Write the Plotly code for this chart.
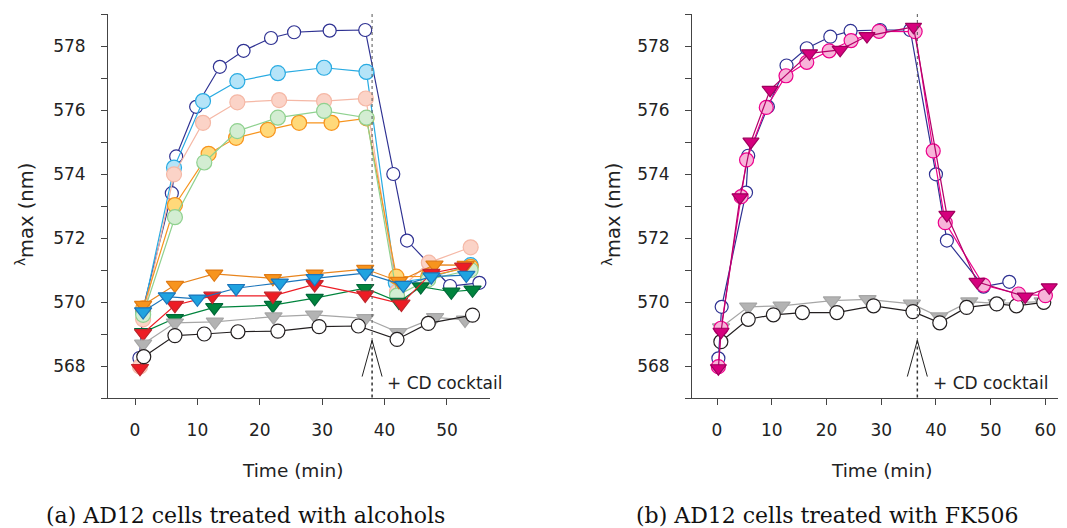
import plotly.graph_objects as go

# ---------------- data: (a) alcohols ----------------
a_navy_t = [0.7, 1.3, 5.9, 6.6, 9.8, 13.6, 17.4, 21.8, 25.5, 31.2, 36.9, 41.4, 43.6, 50.5, 55.2]
a_navy_v = [568.25, 569.8, 573.4, 574.55, 576.1, 577.35, 577.85, 578.25, 578.43, 578.48, 578.5, 574.0, 571.92, 570.5, 570.6]

a_lblue_t = [1.3, 6.25, 10.9, 16.4, 22.9, 30.3, 37.1, 41.8, 47.0, 53.8]
a_lblue_v = [569.7, 574.2, 576.28, 576.9, 577.15, 577.32, 577.19, 570.6, 570.75, 571.15]

a_salmon_t = [0.8, 1.3, 6.25, 10.9, 16.4, 23.1, 30.3, 37.0, 42.0, 47.1, 53.8]
a_salmon_v = [567.98, 569.46, 573.99, 575.6, 576.24, 576.31, 576.28, 576.36, 570.32, 571.23, 571.71]

a_yellow_t = [1.3, 6.4, 11.8, 16.2, 21.3, 26.3, 31.5, 37.1, 41.9, 47.0, 53.8]
a_yellow_v = [569.8, 573.03, 574.63, 575.13, 575.38, 575.6, 575.6, 575.74, 570.79, 570.8, 571.1]

a_lgreen_t = [1.3, 6.4, 11.1, 16.4, 22.9, 30.3, 37.1, 42.0, 47.0, 53.8]
a_lgreen_v = [569.6, 572.65, 574.36, 575.34, 575.76, 575.97, 575.76, 570.2, 570.7, 571.0]

a_orange_t = [1.3, 6.4, 12.7, 22.1, 28.8, 36.9, 42.3, 48.0, 53.0]
a_orange_v = [569.9, 570.53, 570.88, 570.74, 570.88, 571.03, 570.65, 571.16, 571.15]

a_dgreen_t = [1.3, 6.4, 12.7, 22.1, 28.8, 36.9, 42.3, 45.8, 50.7, 54.1]
a_dgreen_v = [569.05, 569.49, 569.83, 569.9, 570.12, 570.43, 570.0, 570.48, 570.32, 570.38]

a_red_t = [0.8, 1.3, 6.4, 12.4, 22.1, 28.8, 36.9, 42.7, 47.5, 52.6]
a_red_v = [567.93, 569.02, 569.9, 570.19, 570.19, 570.55, 570.22, 569.94, 570.9, 571.1]

a_blue_t = [1.3, 5.1, 10.0, 16.2, 23.2, 28.8, 36.9, 43.0, 47.5, 53.1]
a_blue_v = [569.7, 570.17, 570.1, 570.43, 570.6, 570.74, 570.9, 570.53, 570.79, 570.84]

a_gray_t = [1.3, 6.4, 12.8, 22.2, 28.7, 36.9, 42.2, 48.1, 52.9]
a_gray_v = [568.69, 569.35, 569.38, 569.54, 569.6, 569.49, 569.05, 569.52, 569.44]

a_black_t = [1.4, 6.4, 11.1, 16.5, 22.9, 29.5, 35.8, 42.0, 47.0, 54.1]
a_black_v = [568.29, 568.95, 569.0, 569.07, 569.09, 569.23, 569.25, 568.83, 569.33, 569.59]

# ---------------- data: (b) FK506 ----------------
b_gray_t = [0.73, 5.7, 11.8, 21.0, 27.5, 35.6, 40.6, 46.1, 51.1, 59.5]
b_gray_v = [569.2, 569.85, 569.88, 570.04, 570.08, 569.94, 569.54, 570.01, 569.96, 570.01]

b_black_t = [0.7, 5.7, 10.3, 15.6, 21.9, 28.6, 35.8, 40.7, 45.6, 51.1, 54.7, 59.7]
b_black_v = [568.76, 569.46, 569.6, 569.67, 569.67, 569.88, 569.7, 569.35, 569.83, 569.94, 569.88, 569.99]

b_navy_t = [0.25, 0.85, 5.3, 5.7, 9.3, 12.7, 16.4, 20.7, 24.4, 29.8, 35.3, 40.0, 42.0, 48.7, 53.4]
b_navy_v = [568.24, 569.85, 573.42, 574.57, 576.1, 577.39, 577.93, 578.29, 578.47, 578.5, 578.5, 573.99, 571.92, 570.48, 570.63]

b_pink_t = [0.25, 0.73, 4.4, 5.4, 9.0, 12.6, 16.4, 20.5, 24.5, 29.6, 36.2, 39.5, 41.7, 48.7, 55.1, 60.0]
b_pink_v = [567.98, 569.18, 573.29, 574.44, 576.08, 577.07, 577.49, 577.85, 578.17, 578.46, 578.45, 574.72, 572.48, 570.53, 570.25, 570.2]

b_mag_t = [0.25, 0.73, 4.2, 6.2, 9.7, 16.9, 22.5, 27.4, 35.9, 42.0, 47.5, 56.3, 60.7]
b_mag_v = [567.93, 569.07, 573.27, 575.01, 576.63, 577.77, 577.88, 578.31, 578.6, 572.72, 570.63, 570.17, 570.46]

x_ticks_a = [0, 10, 20, 30, 40, 50]
x_ticks_b = [0, 10, 20, 30, 40, 50, 60]
cocktail_a = 38.0
cocktail_b = 36.6

# page body has an 8px margin: work in window pixels and shift by OFF
OFF = 8
W, H = 1067 - OFF, 528 - OFF


def px(x):
    return (x - OFF) / W


def py(y):
    return (H - (y - OFF)) / H


fig = go.Figure()


def add(t, v, xa, ya, line, fill, edge, symbol="circle", size=14):
    fig.add_trace(go.Scatter(
        x=t, y=v, xaxis=xa, yaxis=ya, mode="lines+markers",
        line=dict(color=line, width=1.2),
        marker=dict(symbol=symbol, size=size, color=fill,
                    line=dict(color=edge, width=1.2)),
        showlegend=False, hoverinfo="skip"))


# (a)
add(a_navy_t, a_navy_v, "x", "y", "#2e3192", "white", "#2e3192", size=13)
add(a_lblue_t, a_lblue_v, "x", "y", "#29abe2", "#b5e4f8", "#29abe2", size=15)
add(a_salmon_t, a_salmon_v, "x", "y", "#f5b8a6", "#fbd3c7", "#f5b8a6", size=15)
add(a_yellow_t, a_yellow_v, "x", "y", "#f7941d", "#ffd97a", "#f7941d", size=15)
add(a_lgreen_t, a_lgreen_v, "x", "y", "#8fd18f", "#d3edd2", "#8fd18f", size=15)
add(a_orange_t, a_orange_v, "x", "y", "#e8841c", "#f7941d", "#e07b14", "triangle-down", 15)
add(a_dgreen_t, a_dgreen_v, "x", "y", "#00843d", "#00843d", "#006838", "triangle-down", 15)
add(a_red_t, a_red_v, "x", "y", "#ed1c24", "#ed1c24", "#c1272d", "triangle-down", 15)
add(a_blue_t, a_blue_v, "x", "y", "#1b75bb", "#1fa3e0", "#1b75bb", "triangle-down", 15)
add(a_gray_t, a_gray_v, "x", "y", "#a6a6a6", "#b3b3b3", "#a6a6a6", "triangle-down", 15)
add(a_black_t, a_black_v, "x", "y", "#231f20", "white", "#231f20", size=14)

# (b)
add(b_gray_t, b_gray_v, "x2", "y2", "#a6a6a6", "#b3b3b3", "#a6a6a6", "triangle-down", 15)
add(b_black_t, b_black_v, "x2", "y2", "#231f20", "white", "#231f20", size=14)
add(b_navy_t, b_navy_v, "x2", "y2", "#2e3192", "white", "#2e3192", size=13)
add(b_pink_t, b_pink_v, "x2", "y2", "#ec008c", "#f8b4d9", "#ec008c", size=14)
add(b_mag_t, b_mag_v, "x2", "y2", "#b5006a", "#d6007d", "#9e005d", "triangle-down", 14)

AX = "#444444"
TFONT = dict(family="DejaVu Sans", size=17, color="#222222")

y_common = dict(range=[567, 579], tick0=568, dtick=2, ticks="outside", ticklen=6,
                tickcolor=AX, showline=True, linecolor=AX, linewidth=1,
                showgrid=False, zeroline=False, tickfont=TFONT,
                ticklabelstandoff=12,
                minor=dict(dtick=1, tick0=567, ticks="outside", ticklen=6, tickcolor=AX),
                domain=[py(398), py(14)])
x_common = dict(ticks="outside", ticklen=6, tickcolor=AX, showline=True, linecolor=AX,
                linewidth=1, showgrid=False, zeroline=False, tickfont=TFONT,
                ticklabelstandoff=11)

fig.update_layout(
    width=W, height=H, plot_bgcolor="white", paper_bgcolor="white",
    margin=dict(l=0, r=0, t=0, b=0),
    xaxis=dict(range=[-4.33, 56.9], tickvals=x_ticks_a, domain=[px(108), px(490)],
               anchor="y", **x_common),
    yaxis=dict(anchor="x", **y_common),
    xaxis2=dict(range=[-4.57, 62.3], tickvals=x_ticks_b, domain=[px(692), px(1058)],
                anchor="y2", **x_common),
    yaxis2=dict(anchor="x2", **y_common),
)

shapes = []
ann = []
for xa, ya, c, wing, tx in (("x", "y", cocktail_a, 1.6, 40.0), ("x2", "y2", cocktail_b, 1.83, 39.1)):
    tip = 568.8
    shapes.append(dict(type="line", xref=xa, yref=ya, x0=c, x1=c, y0=579, y1=tip,
                       line=dict(color="#555555", width=1, dash="dot")))
    shapes.append(dict(type="line", xref=xa, yref=ya, x0=c, x1=c, y0=tip, y1=567,
                       line=dict(color="#333333", width=1.5, dash="dot")))
    shapes.append(dict(type="line", xref=xa, yref=ya, x0=c, x1=c - wing, y0=tip, y1=567.67,
                       line=dict(color="#222222", width=1)))
    shapes.append(dict(type="line", xref=xa, yref=ya, x0=c, x1=c + wing, y0=tip, y1=567.67,
                       line=dict(color="#222222", width=1)))
    ann.append(dict(xref=xa, yref=ya, x=tx, y=567.47, text="+ CD cocktail",
                    showarrow=False, xanchor="left", yanchor="middle",
                    font=dict(family="DejaVu Sans", size=17, color="#222222")))

for xc in (292, 881):
    ann.append(dict(xref="paper", yref="paper", x=px(xc), y=py(470),
                    text="Time (min)", showarrow=False, xanchor="center", yanchor="middle",
                    font=dict(family="DejaVu Sans", size=18.5, color="#222222")))
for xc in (25, 612):
    ann.append(dict(xref="paper", yref="paper", x=px(xc), y=py(215),
                    text="<sup>λ</sup>max (nm)", showarrow=False, xanchor="center",
                    yanchor="middle", textangle=-90,
                    font=dict(family="DejaVu Sans", size=19.5, color="#222222")))

ann.append(dict(xref="paper", yref="paper", x=px(245), y=py(515),
                text="(a) AD12 cells treated with alcohols", showarrow=False,
                xanchor="center", yanchor="middle",
                font=dict(family="DejaVu Serif", size=22, color="#111111")))
ann.append(dict(xref="paper", yref="paper", x=px(827), y=py(515),
                text="(b) AD12 cells treated with FK506", showarrow=False,
                xanchor="center", yanchor="middle",
                font=dict(family="DejaVu Serif", size=22, color="#111111")))

fig.update_layout(shapes=shapes, annotations=ann)
fig.write_html("out.html")
